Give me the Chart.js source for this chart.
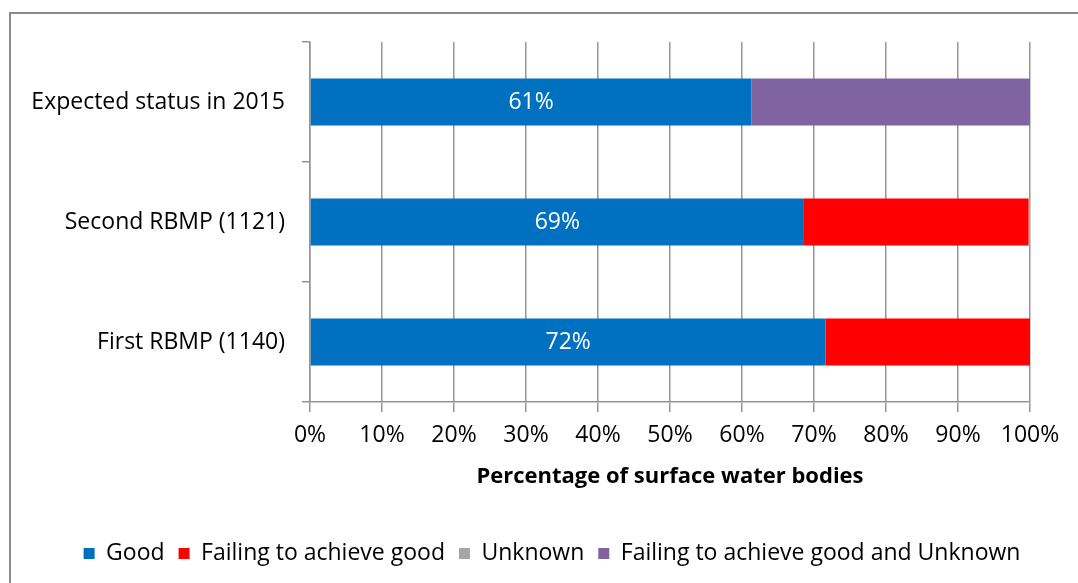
<!DOCTYPE html>
<html lang="en">
  <head>
    <meta charset="UTF-8" />
    <title>Surface water bodies status</title>
    <style>
      body {
        margin: 0;
        background: #ffffff;
        overflow: hidden;
      }
      .frame {
        position: absolute;
        left: 9px;
        top: 12px;
        width: 1100px;
        height: 600px;
        border: 2px solid #8a8a8a;
      }
      #wrap {
        position: absolute;
        left: 0;
        top: 0;
        width: 1078px;
        height: 583px;
      }
    </style>
  </head>
  <body>
    <div class="frame"></div>
    <div id="wrap"><canvas id="statusChart"></canvas></div>

    <script src="https://cdn.jsdelivr.net/npm/chart.js"></script>
    <script>
      const categories = [
        "Expected status in 2015",
        "Second RBMP (1121)",
        "First RBMP (1140)",
      ];
      const good = [61.3, 68.6, 71.6];
      const failing = [0, 31.2, 28.4];
      const unknown = [0, 0.2, 0];
      const failingAndUnknown = [38.7, 0, 0];
      const xTicks = [0, 10, 20, 30, 40, 50, 60, 70, 80, 90, 100];

      const font = "'Open Sans', sans-serif";
      const gridColor = "#959595";

      // white percentage labels inside the "Good" bars
      const goodLabels = {
        id: "goodLabels",
        afterDatasetsDraw(chart) {
          const ctx = chart.ctx;
          const meta = chart.getDatasetMeta(0);
          ctx.save();
          ctx.fillStyle = "#ffffff";
          ctx.font = "23px " + font;
          ctx.textAlign = "center";
          ctx.textBaseline = "middle";
          meta.data.forEach((bar, i) => {
            ctx.fillText(Math.round(good[i]) + "%", (bar.x + bar.base) / 2, bar.y);
          });
          ctx.restore();
        },
      };

      // legend sits a bit right of the canvas centre in the original
      const shiftLegend = {
        id: "shiftLegend",
        afterLayout(chart) {
          chart.legend.left += 37;
          chart.legend.right += 37;
        },
      };

      const ctx = document.getElementById("statusChart").getContext("2d");
      new Chart(ctx, {
        type: "bar",
        data: {
          labels: categories,
          datasets: [
            { label: "Good", data: good, backgroundColor: "#0070c0" },
            { label: "Failing to achieve good", data: failing, backgroundColor: "#ff0000" },
            { label: "Unknown", data: unknown, backgroundColor: "#a5a5a5" },
            {
              label: "Failing to achieve good and Unknown",
              data: failingAndUnknown,
              backgroundColor: "#8064a2",
            },
          ],
        },
        options: {
          indexAxis: "y",
          responsive: true,
          maintainAspectRatio: false,
          animation: false,
          categoryPercentage: 1,
          barPercentage: 0.39,
          borderWidth: 0,
          layout: { padding: { left: 0, top: 42, right: 48, bottom: 8 } },
          scales: {
            x: {
              stacked: true,
              min: 0,
              max: 100,
              afterBuildTicks(scale) {
                scale.ticks = xTicks.map((v) => ({ value: v }));
              },
              afterFit(scale) {
                scale.height = 126;
              },
              grid: { color: gridColor, lineWidth: 1.5, tickLength: 10 },
              border: { color: gridColor, width: 1.5 },
              ticks: {
                color: "#000000",
                padding: 10,
                font: { family: font, size: 23 },
                callback: (v) => v + "%",
              },
              title: {
                display: true,
                text: "Percentage of surface water bodies",
                color: "#000000",
                font: { family: font, size: 22, weight: "bold" },
                padding: { top: 0, bottom: 38 },
              },
            },
            y: {
              stacked: true,
              afterFit(scale) {
                scale.width = 310;
              },
              grid: {
                drawOnChartArea: false,
                color: gridColor,
                lineWidth: 1.5,
                tickLength: 8,
              },
              border: { color: gridColor, width: 1.5 },
              ticks: {
                color: "#000000",
                padding: 17,
                font: { family: font, size: 23 },
              },
            },
          },
          plugins: {
            tooltip: { enabled: false },
            legend: {
              position: "bottom",
              labels: {
                color: "#000000",
                boxWidth: 11,
                boxHeight: 11,
                padding: 14,
                font: { family: font, size: 23 },
              },
            },
          },
        },
        plugins: [goodLabels, shiftLegend],
      });
    </script>
  </body>
</html>
